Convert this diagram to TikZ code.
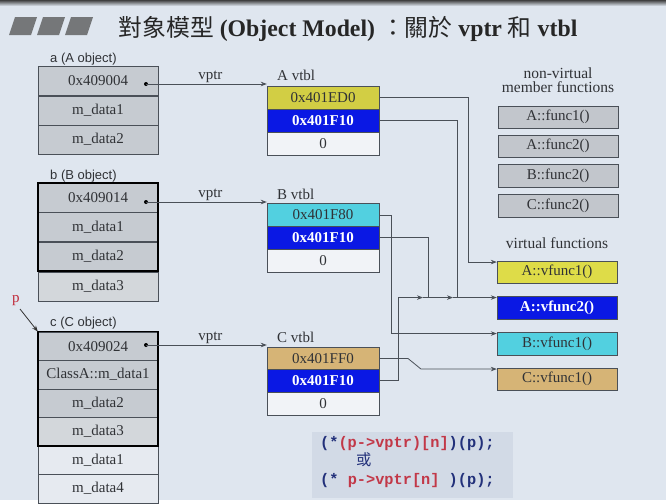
\documentclass[tikz,border=0pt]{standalone}
\usepackage{fontspec}
\setmainfont{Liberation Serif}
\setsansfont{Liberation Sans}
\setmonofont{Liberation Mono}
\newfontfamily\cjk{Noto Sans CJK TC}
\usetikzlibrary{calc,arrows.meta}
\definecolor{bg}{HTML}{DFE6EF}
\definecolor{linec}{HTML}{4A5058}
\definecolor{objfill}{HTML}{C6CBD1}
\definecolor{marble}{HTML}{D3D7DB}
\definecolor{lightrow}{HTML}{E6EAF0}
\definecolor{txt}{HTML}{303236}
\definecolor{vyellow}{HTML}{D2CE44}
\definecolor{vyellow2}{HTML}{DEDC48}
\definecolor{vblue}{HTML}{0A18E4}
\definecolor{vcyan}{HTML}{52D0E0}
\definecolor{vtan}{HTML}{D6B476}
\definecolor{vwhite}{HTML}{F1F3F7}
\definecolor{nvfill}{HTML}{C2C6CC}
\definecolor{codebg}{HTML}{D2DAE6}
\definecolor{codenavy}{HTML}{22307A}
\definecolor{codered}{HTML}{C23848}
\definecolor{pred}{HTML}{C02838}
\definecolor{blockc}{HTML}{757779}
\newcommand\myfs[1]{\fontsize{#1}{#1}\selectfont}
\begin{document}
\begin{tikzpicture}[x=1pt,y=-1pt,
  obj/.style={draw=linec, fill=objfill, minimum width=120pt, minimum height=29pt, inner sep=0pt, font=\myfs{15}, text=txt},
  vt/.style={draw=linec, minimum width=112pt, minimum height=23pt, inner sep=0pt, font=\myfs{15}, text=txt},
  vtb/.style={vt, fill=vblue, text=white, font=\myfs{15}\bfseries},
  fn/.style={draw=linec, minimum width=120pt, minimum height=22.5pt, inner sep=0pt, font=\myfs{15}, text=txt},
  lab/.style={font=\myfs{15}, text=txt, inner sep=1pt},
  slab/.style={font=\sffamily\myfs{13}, text=txt, inner sep=0pt},
  conn/.style={draw=linec, line width=0.8pt},
  arr/.style={conn, -{Stealth[length=6pt,width=4.5pt]}},
  dot/.style={circle, fill=black, inner sep=0pt, minimum size=4pt}]
% background
\fill[bg] (0,0) rectangle (666,500);
\shade[top color=black!75, bottom color=bg] (0,0) rectangle (666,6);
% title blocks
\foreach \i in {0,1,2}{
  \fill[blockc] (15+28*\i,17) -- (37+28*\i,17) -- (31+28*\i,35) -- (9+28*\i,35) -- cycle;
}
\node[font=\myfs{23.8}, text=black!85] (title) at (348,29)
  {{\cjk 對象模型} \textbf{(Object Model)} {\cjk ：關於} \textbf{vptr} {\cjk 和} \textbf{vtbl}};

% object a
\node[slab, anchor=west] (alab) at (50,59) {a (A object)};
\node[obj] (a1) at (98,81) {0x409004};
\node[obj] (a2) at (98,110.5) {m\_data1};
\node[obj] (a3) at (98,139.5) {m\_data2};
\node[dot] (ad) at (146,84) {};

% object b
\node[slab, anchor=west] (blab) at (50,176) {b (B object)};
\node[obj] (b1) at (98,197.5) {0x409014};
\node[obj] (b2) at (98,227) {m\_data1};
\node[obj] (b3) at (98,256.5) {m\_data2};
\node[obj, fill=marble] (b4) at (98,286.5) {m\_data3};
\draw[black, line width=1.7pt] (b1.north west) rectangle (b3.south east);
\node[dot] (bd) at (146,202) {};

% object c
\node[slab, anchor=west] (clab) at (50,323) {c (C object)};
\node[obj] (c1) at (98,346.25) {0x409024};
\node[obj, minimum height=28.5pt] (c2) at (98,374.75) {ClassA::m\_data1};
\node[obj, minimum height=28.5pt] (c3) at (98,403.25) {m\_data2};
\node[obj, minimum height=28.5pt, fill=marble] (c4) at (98,431.75) {m\_data3};
\node[obj, minimum height=28.5pt, fill=lightrow] (c5) at (98,460.25) {m\_data1};
\node[obj, minimum height=28.5pt, fill=lightrow] (c6) at (98,488.75) {m\_data4};
\draw[black, line width=1.7pt] (c1.north west) rectangle (c4.south east);
\node[dot] (cd) at (146,345) {};

% p pointer
\node[font=\myfs{15}, text=pred, inner sep=0pt] (p) at (16,301) {p};
\draw[arr, draw=black!80] (20,309) -- (c1.north west);

% vtbls
\node[lab, anchor=west] (vAl) at (276,75) {A vtbl};
\node[vt, fill=vyellow] (vA1) at (323,97.5) {0x401ED0};
\node[vtb] (vA2) at (323,120.5) {0x401F10};
\node[vt, fill=vwhite] (vA3) at (323,143.5) {0};

\node[lab, anchor=west] (vBl) at (276,194) {B vtbl};
\node[vt, fill=vcyan] (vB1) at (323,215) {0x401F80};
\node[vtb] (vB2) at (323,237.5) {0x401F10};
\node[vt, fill=vwhite] (vB3) at (323,260.5) {0};

\node[lab, anchor=west] (vCl) at (276,337) {C vtbl};
\node[vt, fill=vtan] (vC1) at (323,358.5) {0x401FF0};
\node[vtb] (vC2) at (323,380.5) {0x401F10};
\node[vt, fill=vwhite] (vC3) at (323,403.5) {0};

% vptr arrows
\draw[arr] (ad.center) -- (ad.center -| vA1.west) node[lab, midway, above, xshift=4pt] (vpa) {vptr};
\draw[arr] (bd.center) -- (bd.center -| vB1.west) node[lab, midway, above, xshift=4pt] (vpb) {vptr};
\draw[arr] (cd.center) -- (cd.center -| vC1.west) node[lab, midway, above, xshift=4pt] (vpc) {vptr};

% non-virtual
\node[lab, align=center, font=\myfs{15.5}] (nvl) at (558,80) {non-virtual\\[-1pt]member functions};
\node[fn, fill=nvfill] (n1) at (558,117) {A::func1()};
\node[fn, fill=nvfill] (n2) at (558,146) {A::func2()};
\node[fn, fill=nvfill] (n3) at (558,175.5) {B::func2()};
\node[fn, fill=nvfill] (n4) at (558,205.5) {C::func2()};

% virtual functions
\node[lab, font=\myfs{15.5}] (vfl) at (557,243) {virtual functions};
\node[fn, fill=vyellow2] (f1) at (557,272) {A::vfunc1()};
\node[fn, fill=vblue, text=white, font=\myfs{15}\bfseries] (f2) at (557,307.5) {A::vfunc2()};
\node[fn, fill=vcyan] (f3) at (557,343.5) {B::vfunc1()};
\node[fn, fill=vtan] (f4) at (557,379) {C::vfunc1()};

\coordinate (f1in) at ($(f1.north west)+(0,1.5)$);
\coordinate (f2in) at ($(f2.north west)+(0,1.5)$);
\coordinate (f3in) at ($(f3.north west)+(0,1.5)$);
\coordinate (f4in) at ($(f4.north west)+(0,1.5)$);

% connectors
\draw[arr] (vA1.east) -| (468,0 |- f1in) -- (f1in);
\draw[conn] (vA2.east) -| (457,0 |- f2in);
\draw[conn] (vB2.east) -| (428,0 |- f2in);
\draw[conn] (vC2.east) -| (398,0 |- f2in);
\draw[arr] (398,0 |- f2in) -- (423,0 |- f2in);
\draw[arr] (423,0 |- f2in) -- (453,0 |- f2in);
\draw[arr] (453,0 |- f2in) -- (f2in);
\draw[arr] (vB1.east) -| (391,0 |- f3in) -- (f3in);
\draw[arr] (vC1.east) -- (408,0 |- vC1.east) -- (421,0 |- f4in) -- (f4in);

% code box
\node[fill=codebg, minimum width=201pt, minimum height=66pt, inner sep=0pt] (code) at (412.5,465) {};
\node[anchor=north west, inner sep=0pt, align=left, text=codenavy,
      font=\ttfamily\bfseries\fontsize{15.3}{18.5}\selectfont] (codetxt) at (320,436)
  {(*\textcolor{codered}{(p->vptr)[n]})(p);\\
   \hspace*{36pt}{\cjk\mdseries 或}\\
   (*\textcolor{codered}{\ p->vptr[n]\ })(p);};
\end{tikzpicture}
\end{document}
